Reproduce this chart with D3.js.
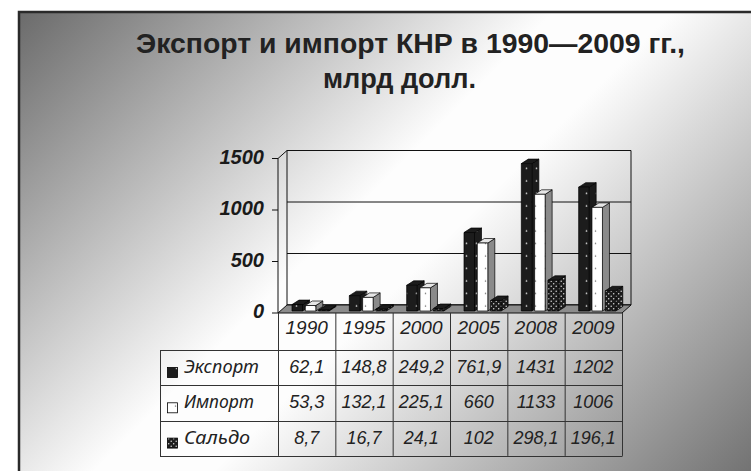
<!DOCTYPE html>
<html>
<head>
<meta charset="utf-8">
<script src="https://cdn.jsdelivr.net/npm/d3@7"></script>
<style>
body { margin:0; background:#fff; }
svg { display:block; font-family:"Liberation Sans", Arial, sans-serif; }
.tab { font-family:"Noto Sans", "Liberation Sans", sans-serif; }
</style>
</head>
<body>
<script>
// data //{{{
var years      = ["1990", "1995", "2000", "2005", "2008", "2009"];
var exportVals = [62.1, 148.8, 249.2, 761.9, 1431, 1202];
var importVals = [53.3, 132.1, 225.1, 660, 1133, 1006];
var saldoVals  = [8.7, 16.7, 24.1, 102, 298.1, 196.1];
var seriesNames = ["Экспорт", "Импорт", "Сальдо"];
var yTicks     = [0, 500, 1000, 1500];
var titleLines = ["Экспорт и импорт КНР в 1990—2009 гг.,", "млрд долл."];
//}}}

var W = 751, H = 471;
var series = [exportVals, importVals, saldoVals];

var svg = d3.select('body').append('svg').attr('width', W).attr('height', H);
var defs = svg.append('defs');

// background //{{{
var grad = defs.append('linearGradient').attr('id', 'bg')
	.attr('gradientUnits', 'userSpaceOnUse')
	.attr('x1', 18).attr('y1', 11).attr('x2', 614).attr('y2', 607);
[[0, '#6a6a6a'], [0.45, '#fdfdfd'], [0.55, '#fdfdfd'], [1, '#737373']].forEach(function(s) {
	grad.append('stop').attr('offset', s[0]).attr('stop-color', s[1]);
});
svg.append('rect')
	.attr('x', 19).attr('y', 12).attr('width', W + 20).attr('height', H + 20)
	.attr('fill', 'url(#bg)').attr('stroke', '#2a2a2a').attr('stroke-width', 2.5);
//}}}

// patterns //{{{
function pattern(id, bg, dot, w, h, pts, r) {
	var p = defs.append('pattern').attr('id', id)
		.attr('patternUnits', 'userSpaceOnUse').attr('width', w).attr('height', h);
	p.append('rect').attr('width', w).attr('height', h).attr('fill', bg);
	pts.forEach(function(d) {
		p.append('circle').attr('cx', d[0]).attr('cy', d[1]).attr('r', r).attr('fill', dot);
	});
}
pattern('pExp', '#1c1c1c', '#d0d0d0', 10, 12.5, [[6.5, 6]], 0.85);
pattern('pImp', '#ffffff', '#666', 10, 12.5, [[5.5, 6]], 0.75);
pattern('pSal', '#1c1c1c', '#d8d8d8', 5, 5, [[1.2, 1.2], [3.7, 3.7]], 0.75);

var styles = [
	{ front: 'url(#pExp)', side: 'url(#pExp)', top: '#1c1c1c' },
	{ front: 'url(#pImp)', side: '#8a8a8a', top: '#e6e6e6' },
	{ front: 'url(#pSal)', side: 'url(#pSal)', top: '#1c1c1c' }
];
//}}}

// title //{{{
svg.append('text').attr('x', 136).attr('y', 53)
	.attr('font-weight', 'bold').attr('font-size', 27)
	.attr('textLength', 549).attr('lengthAdjust', 'spacingAndGlyphs')
	.attr('fill', '#222').text(titleLines[0]);
svg.append('text').attr('x', 323).attr('y', 88)
	.attr('font-weight', 'bold').attr('font-size', 27)
	.attr('textLength', 153).attr('lengthAdjust', 'spacingAndGlyphs')
	.attr('fill', '#222').text(titleLines[1]);
//}}}

// scales //{{{
var x = d3.scaleBand().domain(years).range([278, 622]);
var y = d3.scaleLinear().domain([0, 1500]).range([313, 158.5]);
var DX = 9, DY = -8;            // floor depth
var B = { off: 12, pitch: 13.3, w: 10.5, dx: 7, dy: -4.5, fx: 2, fy: -2 };
function poly(p) { return 'M' + p.map(function(d) { return d.join(','); }).join('L') + 'Z'; }
//}}}

// walls //{{{
var walls = svg.append('g').attr('fill', 'none').attr('stroke', '#111').attr('stroke-width', 1);
var x0 = 278, x1 = 622;
// back wall frame + gridlines
walls.append('path').attr('d', poly([[x0 + DX, y(0) + DY], [x0 + DX, y(1500) + DY], [x1 + DX, y(1500) + DY], [x1 + DX, y(0) + DY]]));
yTicks.forEach(function(t) {
	walls.append('line').attr('x1', x0 + DX).attr('x2', x1 + DX)
		.attr('y1', y(t) + DY).attr('y2', y(t) + DY);
});
// side wall edges
walls.append('line').attr('x1', x0).attr('x2', x0).attr('y1', y(0)).attr('y2', y(1500));
walls.append('line').attr('x1', x0).attr('x2', x0 + DX).attr('y1', y(1500)).attr('y2', y(1500) + DY);
// ticks
yTicks.forEach(function(t) {
	walls.append('line').attr('x1', x0 - 6).attr('x2', x0).attr('y1', y(t)).attr('y2', y(t));
});
// floor
svg.append('path')
	.attr('d', poly([[x0, y(0)], [x1, y(0)], [x1 + DX, y(0) + DY], [x0 + DX, y(0) + DY]]))
	.attr('fill', '#8c8c8c').attr('stroke', '#111').attr('stroke-width', 1);

svg.append('g').selectAll('text').data(yTicks).join('text')
	.attr('x', 264).attr('y', function(d) { return y(d) + 5; })
	.attr('text-anchor', 'end').attr('font-size', 20)
	.attr('font-weight', 'bold').attr('font-style', 'italic').attr('fill', '#1a1a1a')
	.text(function(d) { return d; });
//}}}

// bars //{{{
var gb = svg.append('g').attr('stroke', '#000').attr('stroke-width', 0.7).attr('stroke-linejoin', 'round');
years.forEach(function(yr, i) {
	series.forEach(function(vals, s) {
		var st = styles[s];
		var bx = x(yr) + B.off + s * B.pitch + B.fx;
		var bx2 = bx + B.w;
		var yb = y(0) + B.fy, yt = y(vals[i]) + B.fy;
		gb.append('path').attr('fill', st.side)
			.attr('d', poly([[bx2, yb], [bx2 + B.dx, yb + B.dy], [bx2 + B.dx, yt + B.dy], [bx2, yt]]));
		gb.append('path').attr('fill', st.top)
			.attr('d', poly([[bx, yt], [bx2, yt], [bx2 + B.dx, yt + B.dy], [bx + B.dx, yt + B.dy]]));
		gb.append('rect').attr('fill', st.front)
			.attr('x', bx).attr('y', yt).attr('width', B.w).attr('height', yb - yt);
	});
});
//}}}

// table //{{{
var rowTop = 350, rowH = 35.3, tabL = 160;
var gt = svg.append('g').attr('stroke', '#333').attr('stroke-width', 1).attr('fill', 'none');
x.domain().concat(['end']).forEach(function(yr, i) {
	var xx = (i < years.length ? x(yr) : x1) + 0.5;
	gt.append('line').attr('x1', xx).attr('x2', xx).attr('y1', y(0)).attr('y2', rowTop + 3 * rowH);
});
for (var r = 0; r <= 3; r++) {
	gt.append('line').attr('x1', tabL).attr('x2', x1 + 0.5)
		.attr('y1', Math.round(rowTop + r * rowH) + 0.5).attr('y2', Math.round(rowTop + r * rowH) + 0.5);
}
gt.append('line').attr('x1', tabL + 0.5).attr('x2', tabL + 0.5).attr('y1', rowTop).attr('y2', rowTop + 3 * rowH + 0.5);

svg.append('g').selectAll('text').data(years).join('text')
	.attr('x', function(d) { return x(d) + x.bandwidth() / 2; }).attr('y', 334)
	.attr('text-anchor', 'middle').attr('font-size', 19).attr('font-style', 'italic').attr('fill', '#222')
	.text(function(d) { return d; });

series.forEach(function(vals, s) {
	var ty = rowTop + s * rowH + 23;
	svg.append('rect').attr('x', 167.5).attr('y', rowTop + s * rowH + 17.5).attr('width', 10).attr('height', 10)
		.attr('fill', styles[s].front).attr('stroke', '#000').attr('stroke-width', 0.8);
	svg.append('text').attr('class', 'tab').attr('x', 184).attr('y', ty)
		.attr('font-size', 18).attr('font-style', 'italic').attr('fill', '#222')
		.attr('textLength', [75, 70, 66][s]).attr('lengthAdjust', 'spacingAndGlyphs')
		.text(seriesNames[s]);
	svg.append('g').selectAll('text').data(vals).join('text')
		.attr('x', function(d, i) { return x(years[i]) + x.bandwidth() / 2; }).attr('y', ty)
		.attr('text-anchor', 'middle').attr('font-size', 18).attr('font-style', 'italic').attr('fill', '#222')
		.text(function(d) { return String(d).replace('.', ','); });
});
//}}}
</script>
</body>
</html>
